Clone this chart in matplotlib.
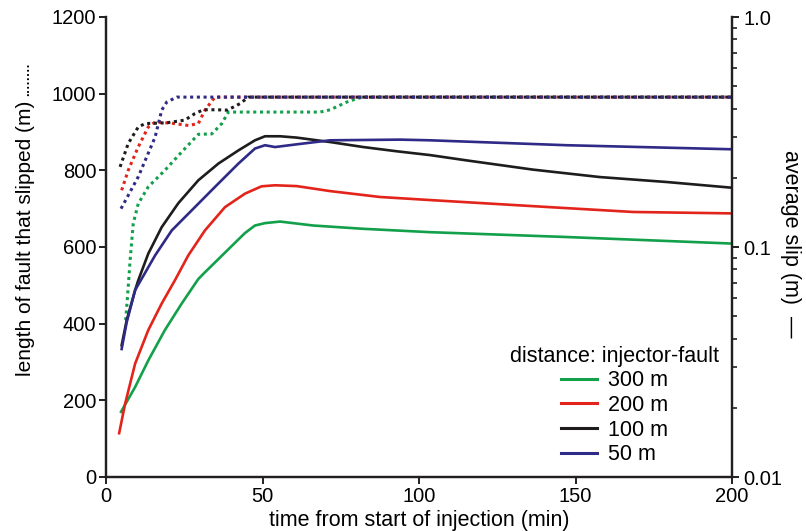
import matplotlib
matplotlib.use('Agg')
import matplotlib.pyplot as plt
from matplotlib.ticker import FixedLocator, LogLocator, NullFormatter
import numpy as np

plt.rcParams['font.family'] = ['Liberation Sans', 'DejaVu Sans']

# distances injector-fault
labels = ['300 m', '200 m', '100 m', '50 m']
colors = ['#12a04a', '#e3241b', '#1e1c1c', '#2e2a86']

# length of fault that slipped (m), dotted, left axis
t_len_300 = [6.3, 7.1, 7.7, 8.7, 10.3, 13.5, 18.8, 24.2, 29.5, 33.8, 37.0, 39.1,
             68.4, 71.6, 76.9, 80.1, 82.1, 200]
len_300 = [409, 496, 565, 661, 713, 757, 800, 848, 894, 895, 922, 952,
           952, 958, 978, 987, 991, 991]
t_len_200 = [5.0, 7.1, 10.3, 13.5, 15.7, 21.0, 26.3, 29.5, 31.6, 34.8, 200]
len_200 = [748, 800, 861, 913, 926, 923, 917, 922, 957, 991, 991]
t_len_100 = [4.5, 7.1, 10.3, 12.5, 19.4, 25.2, 28.4, 31.1, 35.4, 38.6, 40.7, 42.8, 45.5, 200]
len_100 = [809, 870, 913, 922, 924, 931, 948, 958, 958, 957, 965, 974, 991, 991]
t_len_50 = [4.8, 10.3, 15.7, 17.8, 19.4, 22.6, 200]
len_50 = [700, 783, 887, 957, 978, 991, 991]

# average slip (m), solid, right axis (log)
t_slip_300 = [4.8, 9.3, 13.5, 18.8, 24.2, 29.5, 31.6, 38.0, 44.4, 47.6, 50.8, 55.6,
              66.2, 82.1, 103.5, 147.2, 200]
slip_300 = [0.0192, 0.0246, 0.0321, 0.0435, 0.0568, 0.0726, 0.0776, 0.0945, 0.115, 0.124,
            0.127, 0.129, 0.124, 0.120, 0.116, 0.1105, 0.1035]
t_slip_200 = [4.2, 6.1, 9.3, 13.5, 17.8, 22.0, 26.3, 31.6, 38.0, 44.4, 49.7, 54.0,
              60.9, 71.6, 87.5, 103.5, 141.9, 168.4, 200]
slip_200 = [0.0155, 0.0208, 0.0311, 0.0435, 0.0568, 0.0716, 0.092, 0.118, 0.149, 0.1706,
            0.1836, 0.1855, 0.184, 0.175, 0.165, 0.160, 0.149, 0.142, 0.140]
t_slip_100 = [5.0, 6.6, 9.3, 10.3, 13.5, 17.8, 23.1, 29.5, 35.9, 42.3, 47.6, 50.8, 55.6,
              60.9, 71.6, 82.2, 92.9, 103.5, 115.2, 136.4, 157.8, 179.1, 200]
slip_100 = [0.0374, 0.048, 0.0649, 0.0716, 0.0935, 0.122, 0.155, 0.195, 0.2305, 0.263,
            0.291, 0.303, 0.303, 0.299, 0.286, 0.272, 0.2607, 0.251, 0.238, 0.217, 0.2014,
            0.1917, 0.181]
t_slip_50 = [5.0, 6.6, 9.3, 15.7, 21.0, 27.4, 34.8, 42.3, 47.6, 50.8, 54.0, 60.9, 71.6,
             94.0, 103.5, 147.2, 200]
slip_50 = [0.036, 0.047, 0.0649, 0.092, 0.118, 0.1444, 0.1824, 0.2305, 0.268, 0.277,
           0.272, 0.2795, 0.291, 0.293, 0.291, 0.277, 0.266]

len_t = [t_len_300, t_len_200, t_len_100, t_len_50]
len_v = [len_300, len_200, len_100, len_50]
slip_t = [t_slip_300, t_slip_200, t_slip_100, t_slip_50]
slip_v = [slip_300, slip_200, slip_100, slip_50]

fs = 15.5
fs_tick = 14.5
W, H = 806, 531
fig = plt.figure(figsize=(W / 100, H / 100), dpi=100)
ax = fig.add_axes([106 / W, 1 - 477 / H, 626 / W, 460 / H])
ax2 = ax.twinx()

for i in range(4):
    ax.plot(len_t[i], len_v[i], color=colors[i], lw=2.2, linestyle=(0, (1, 1.2)),
            dash_capstyle='butt')

handles = []
for i in range(4):
    h, = ax2.plot(slip_t[i], slip_v[i], color=colors[i], lw=1.9, solid_joinstyle='round')
    handles.append(h)

ax.set_xlim(0, 200)
ax.set_ylim(0, 1200)
ax.set_xticks([0, 50, 100, 150, 200])
ax.set_yticks(range(0, 1201, 200))
ax2.set_yscale('log')
ax2.set_ylim(0.01, 1.0)
ax2.yaxis.set_major_locator(FixedLocator([0.01, 0.1, 1.0]))
ax2.set_yticklabels(['0.01', '0.1', '1.0'])
ax2.yaxis.set_minor_locator(LogLocator(base=10, subs=np.arange(2, 10)))
ax2.yaxis.set_minor_formatter(NullFormatter())

for a in (ax, ax2):
    a.spines['top'].set_visible(False)
    for s in ('left', 'right', 'bottom'):
        a.spines[s].set_linewidth(1.6)
        a.spines[s].set_color('#231f20')
    a.tick_params(which='major', direction='out', length=5, width=1.4,
                  labelsize=fs_tick, color='#231f20', pad=2)
ax2.tick_params(which='minor', direction='out', length=3.5, width=1.2, color='#231f20')
ax2.tick_params(which='major', pad=3)

ax.set_xlabel('time from start of injection (min)', fontsize=fs, labelpad=3)

# left label and its dotted-line key
fig.text(26 / W, 1 - 376 / H, 'length of fault that slipped (m)', rotation=90,
         ha='center', va='bottom', fontsize=15)
fig.text(29.5 / W, 1 - 96 / H, '\u00b7' * 8, rotation=90, ha='center', va='bottom',
         fontsize=9, fontweight='bold')

# right label and its solid-line key
fig.text(791 / W, 1 - 150 / H, 'average slip (m)  \u2014', rotation=-90,
         ha='center', va='top', fontsize=fs)

leg = ax2.legend(handles, labels, title='distance: injector-fault', frameon=False,
                 loc='lower right', bbox_to_anchor=(0.986, 0.016), borderaxespad=0,
                 borderpad=0.2, fontsize=fs, title_fontsize=fs, handlelength=1.65,
                 handletextpad=0.5, labelspacing=0.17)
for l in leg.get_lines():
    l.set_linewidth(2.2)

fig.savefig('out.png', dpi=100)
